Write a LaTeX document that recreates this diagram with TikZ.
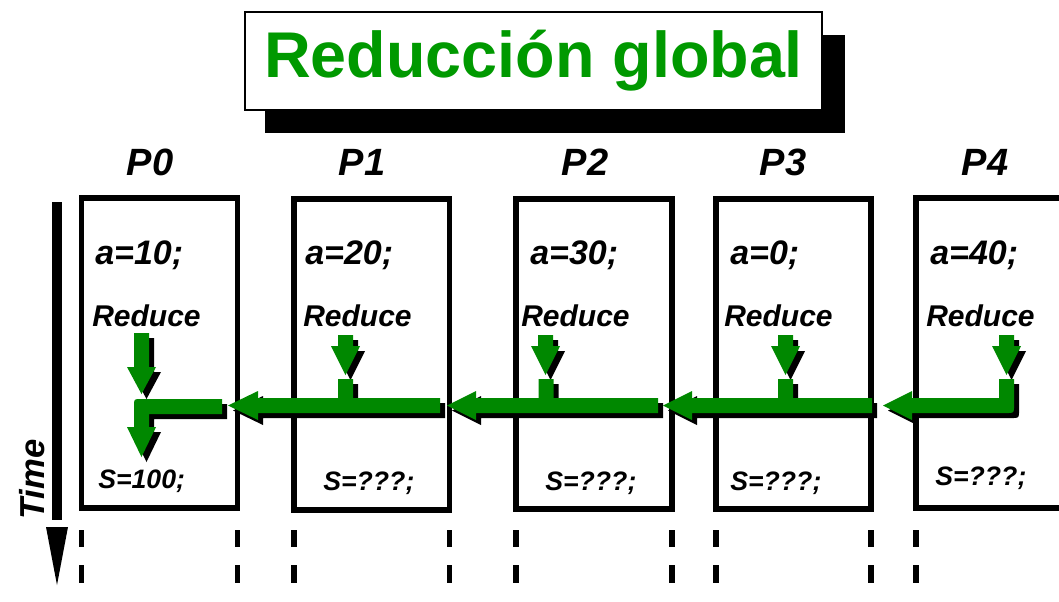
\documentclass[tikz,border=0pt]{standalone}
\usepackage{fontspec}
\setmainfont{Liberation Sans}
\definecolor{argreen}{RGB}{0,136,0}
\definecolor{ttgreen}{RGB}{0,153,0}
\newcommand\myarrowshapes{%
  % P0 small down arrow
  \fill (134,333) -- (149,333) -- (149,367) -- (156,367) -- (141.5,394) -- (127,367) -- (134,367) -- cycle;
  % P0 L-shaped arrow
  \fill (222,399) -- (222,414) -- (149,414) -- (149,427) -- (156,427) -- (141.5,457) -- (127,427) -- (134,427) -- (134,406) .. controls (134,399) .. (141,399) -- cycle;
  % small down arrows P1..P4
  \foreach \c in {345.5,545.5,785.5,1006.5}{
    \fill (\c-7.5,335) -- (\c+7.5,335) -- (\c+7.5,346) -- (\c+14.5,346) -- (\c,375) -- (\c-14.5,346) -- (\c-7.5,346) -- cycle;
  }
  % horizontal arrows with stubs
  \foreach \r/\b/\t/\s in {440/258/228/338, 658/476/447/538.5, 872/692/663/778}{
    \fill (\r,398) -- (\r,413) -- (\b,413) -- (\b,420) -- (\t,405.5) -- (\b,391) -- (\b,398) -- (\s,398) -- (\s,379) -- (\s+15,379) -- (\s+15,398) -- cycle;
  }
  % P4 L-shaped arrow
  \fill (999,379) -- (1014,379) -- (1014,406) .. controls (1014,413) .. (1007,413) -- (912,413) -- (912,420) -- (883,405.5) -- (912,391) -- (912,398) -- (999,398) -- cycle;
}
\begin{document}
\begin{tikzpicture}[x=0.75pt,y=-0.75pt,
  procbox/.style={draw=black, line width=4.4pt},
  dashseg/.style={draw=black, line width=3.8pt},
  plabel/.style={font=\bfseries\itshape\fontsize{28.5}{30}\selectfont, inner sep=0, anchor=base},
  avar/.style={font=\bfseries\itshape\fontsize{25.5}{27}\selectfont, inner sep=0, anchor=base west},
  redlbl/.style={font=\bfseries\itshape\fontsize{22.5}{24}\selectfont, inner sep=0, anchor=base west},
  slbl/.style={font=\bfseries\itshape\fontsize{20}{22}\selectfont, inner sep=0, anchor=base west}]
\useasboundingbox (0,0) rectangle (1059,601);
\clip (0,0) rectangle (1059,601);
\fill[white] (0,0) rectangle (1059,601);

% title
\fill[black] (265,35) rectangle (845,133);
\node[draw=black, fill=white, line width=1.5pt, minimum width=432.75pt, minimum height=73.5pt, inner sep=0,
  font=\bfseries\fontsize{48.5}{52}\selectfont, text=ttgreen] (title) at (533.5,61) {Reducción global};

% process labels
\node[plabel] (p0) at (150,175) {P0};
\node[plabel] (p1) at (362,175) {P1};
\node[plabel] (p2) at (585,175) {P2};
\node[plabel] (p3) at (783,175) {P3};
\node[plabel] (p4) at (985,175) {P4};

% process boxes
\draw[procbox] (81.5,198) rectangle (237.5,508);
\draw[procbox] (294,199) rectangle (449.5,510);
\draw[procbox] (516,199) rectangle (672,509);
\draw[procbox] (716,199) rectangle (871,509);
\draw[procbox] (916,198) rectangle (1080,508);

% dashes below
\foreach \x in {81.5,237.5,294,449.5,516,672,716,871,916}{
  \draw[dashseg] (\x,530) -- (\x,547);
  \draw[dashseg] (\x,565) -- (\x,583);
}

% time axis
\fill[black] (52,202) rectangle (62,520);
\fill[black] (46,527) -- (68,527) -- (57,585) -- cycle;
\node[font=\bfseries\itshape\fontsize{26}{28}\selectfont, inner sep=0, anchor=base west, rotate=90] (time) at (44,520) {Time};

% texts
\node[avar] (a0) at (95,264) {a=10;};
\node[avar] (a1) at (305,264) {a=20;};
\node[avar] (a2) at (530,264) {a=30;};
\node[avar] (a3) at (730,264) {a=0;};
\node[avar] (a4) at (930,264) {a=40;};

\node[redlbl] (r0) at (92,326) {Reduce};
\node[redlbl] (r1) at (303,326) {Reduce};
\node[redlbl] (r2) at (521,326) {Reduce};
\node[redlbl] (r3) at (724,326) {Reduce};
\node[redlbl] (r4) at (926,326) {Reduce};

\node[slbl] (s0) at (98,488) {S=100;};
\node[slbl] (s1) at (323,490) {S=???;};
\node[slbl] (s2) at (545,490) {S=???;};
\node[slbl] (s3) at (730,490) {S=???;};
\node[slbl] (s4) at (935,485) {S=???;};

% arrows: shadow then green
\begin{scope}[shift={(5,5)}, black]
  \myarrowshapes
\end{scope}
\begin{scope}[argreen]
  \myarrowshapes
\end{scope}
\end{tikzpicture}
\end{document}
